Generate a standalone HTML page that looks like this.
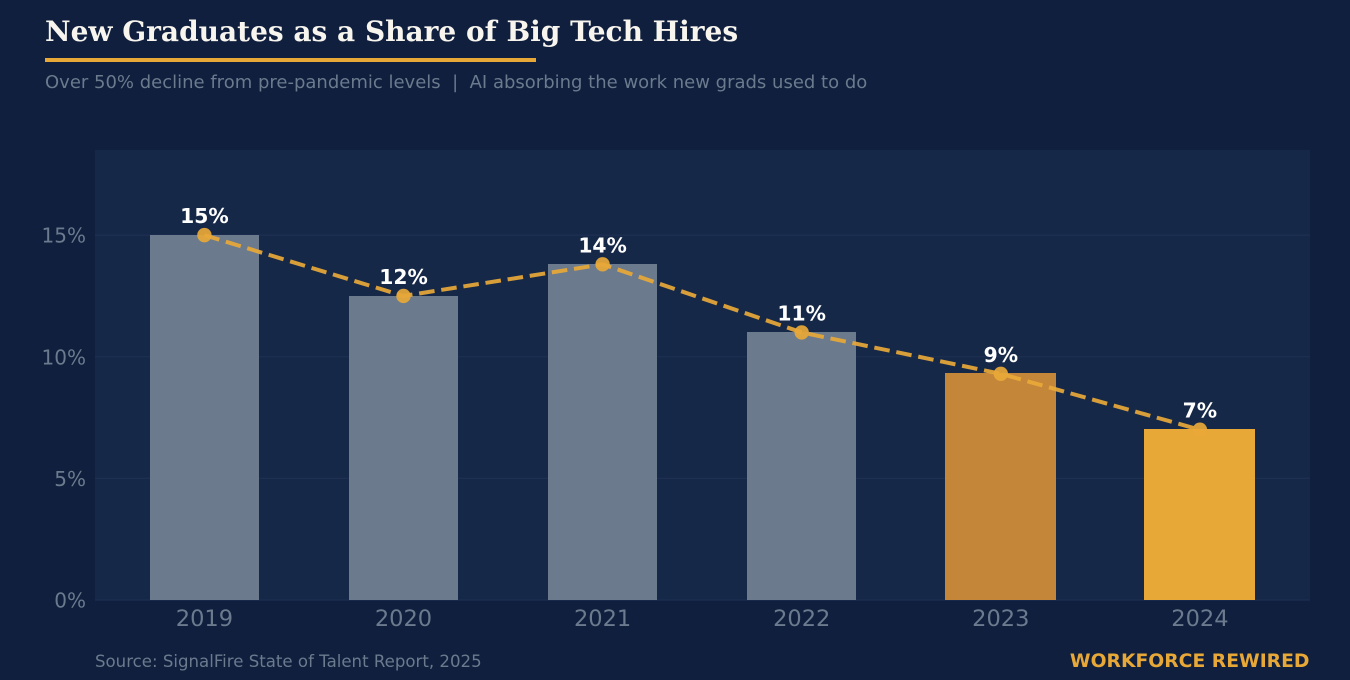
<!DOCTYPE html>
<html lang="en">
<head>
<meta charset="utf-8">
<title>New Graduates as a Share of Big Tech Hires</title>
<style>
html,body{margin:0;padding:0;background:#0f1f3d;width:1350px;height:680px;overflow:hidden}
svg{display:block}
text{white-space:pre}
</style>
</head>
<body>
<svg id="chart" xmlns="http://www.w3.org/2000/svg" width="1350" height="680" viewBox="0 0 1350 680">
<rect x="0" y="0" width="1350" height="680" fill="#0f1f3d"/>
<text x="45" y="41" font-family="'DejaVu Serif','Liberation Serif',serif" font-weight="700" font-size="28" fill="#f8f5ef">New Graduates as a Share of Big Tech Hires</text>
<rect x="45" y="58" width="491" height="4" fill="#e8a838"/>
<text x="45" y="88" font-family="'DejaVu Sans','Liberation Sans',sans-serif" font-size="18" fill="#6b7a8d">Over 50% decline from pre-pandemic levels  |  AI absorbing the work new grads used to do</text>
<rect x="95" y="150" width="1215" height="450" fill="#162848"/>
<g id="grid"></g>
<g id="bars"></g>
<g id="line"></g>
<g id="labels"></g>
<g id="xticks"></g>
<g id="yticks"></g>
<text x="95" y="667" font-family="'DejaVu Sans','Liberation Sans',sans-serif" font-size="16.6" fill="#6b7a8d">Source: SignalFire State of Talent Report, 2025</text>
<text x="1309.5" y="667" text-anchor="end" font-family="'DejaVu Sans','Liberation Sans',sans-serif" font-weight="700" font-size="18.75" fill="#e8a838">WORKFORCE REWIRED</text>
</svg>
<script>
const categories = ['2019', '2020', '2021', '2022', '2023', '2024'];
const shareValues = [15, 12.5, 13.8, 11, 9.3, 7];
const printedLabels = ['15%', '12%', '14%', '11%', '9%', '7%'];
const yTickValues = [0, 5, 10, 15];
const yTickLabels = ['0%', '5%', '10%', '15%'];

const NS = 'http://www.w3.org/2000/svg';
const plot = { left: 95, right: 1310, top: 150, bottom: 600 };
const yMax = 18.5;
const xStart = 204.4;
const xStep = 995.5 / (categories.length - 1);
const barWidth = xStep * 0.55;
const sans = "'DejaVu Sans','Liberation Sans',sans-serif";

function xScale(i) { return xStart + i * xStep; }
function yScale(v) { return plot.bottom - (v / yMax) * (plot.bottom - plot.top); }
function make(tag, parent, attrs) {
  const el = document.createElementNS(NS, tag);
  for (const k in attrs) el.setAttribute(k, attrs[k]);
  document.getElementById(parent).appendChild(el);
  return el;
}
function barFill(i) {
  if (categories[i] === '2023') return '#c4873a';
  if (categories[i] === '2024') return '#e8a838';
  return '#6b7a8d';
}

yTickValues.forEach(function (v, i) {
  const gl = make('line', 'grid', { x1: plot.left, x2: plot.right, y1: yScale(v), y2: yScale(v), stroke: '#1e2f52', 'stroke-width': 1.2 });
  
  
  const t = make('text', 'yticks', { x: 86, y: yScale(v) + 7.5, 'text-anchor': 'end', 'font-family': sans, 'font-size': 20, fill: '#6b7a8d' });
  
  
  t.textContent = yTickLabels[i];
});

categories.forEach(function (c, i) {
  const highlighted = c === '2023' || c === '2024';
  const pad = highlighted ? 0.75 : 0;
  const x0 = Math.round(xScale(i) - barWidth / 2 - pad);
  const x1 = Math.round(xScale(i) + barWidth / 2 + pad);
  const y0 = Math.round(yScale(shareValues[i]) - pad);
  const b = make('rect', 'bars', {
    x: x0,
    y: y0,
    width: x1 - x0,
    height: plot.bottom - y0,
    fill: barFill(i)
  });
  
  
  const t = make('text', 'xticks', { x: xScale(i), y: 626, 'text-anchor': 'middle', 'font-family': sans, 'font-size': 22.5, fill: '#6b7a8d' });
  
  
  t.textContent = c;
});

const points = shareValues.map(function (v, i) { return xScale(i) + ',' + yScale(v); }).join(' ');
const trend = make('polyline', 'line', { points: points, fill: 'none', stroke: '#e8a838', 'stroke-opacity': 0.92, 'stroke-width': 4, 'stroke-dasharray': '15.6 6.8' });



shareValues.forEach(function (v, i) {
  const d = make('circle', 'line', { cx: xScale(i), cy: yScale(v), r: 7.2, fill: '#e8a838', 'fill-opacity': 0.92 });
  
  
  const t = make('text', 'labels', { x: xScale(i), y: yScale(v) - 12, 'text-anchor': 'middle', 'font-family': sans, 'font-weight': 700, 'font-size': 20.3, fill: '#ffffff' });
  
  
  t.textContent = printedLabels[i];
});
</script>
</body>
</html>
